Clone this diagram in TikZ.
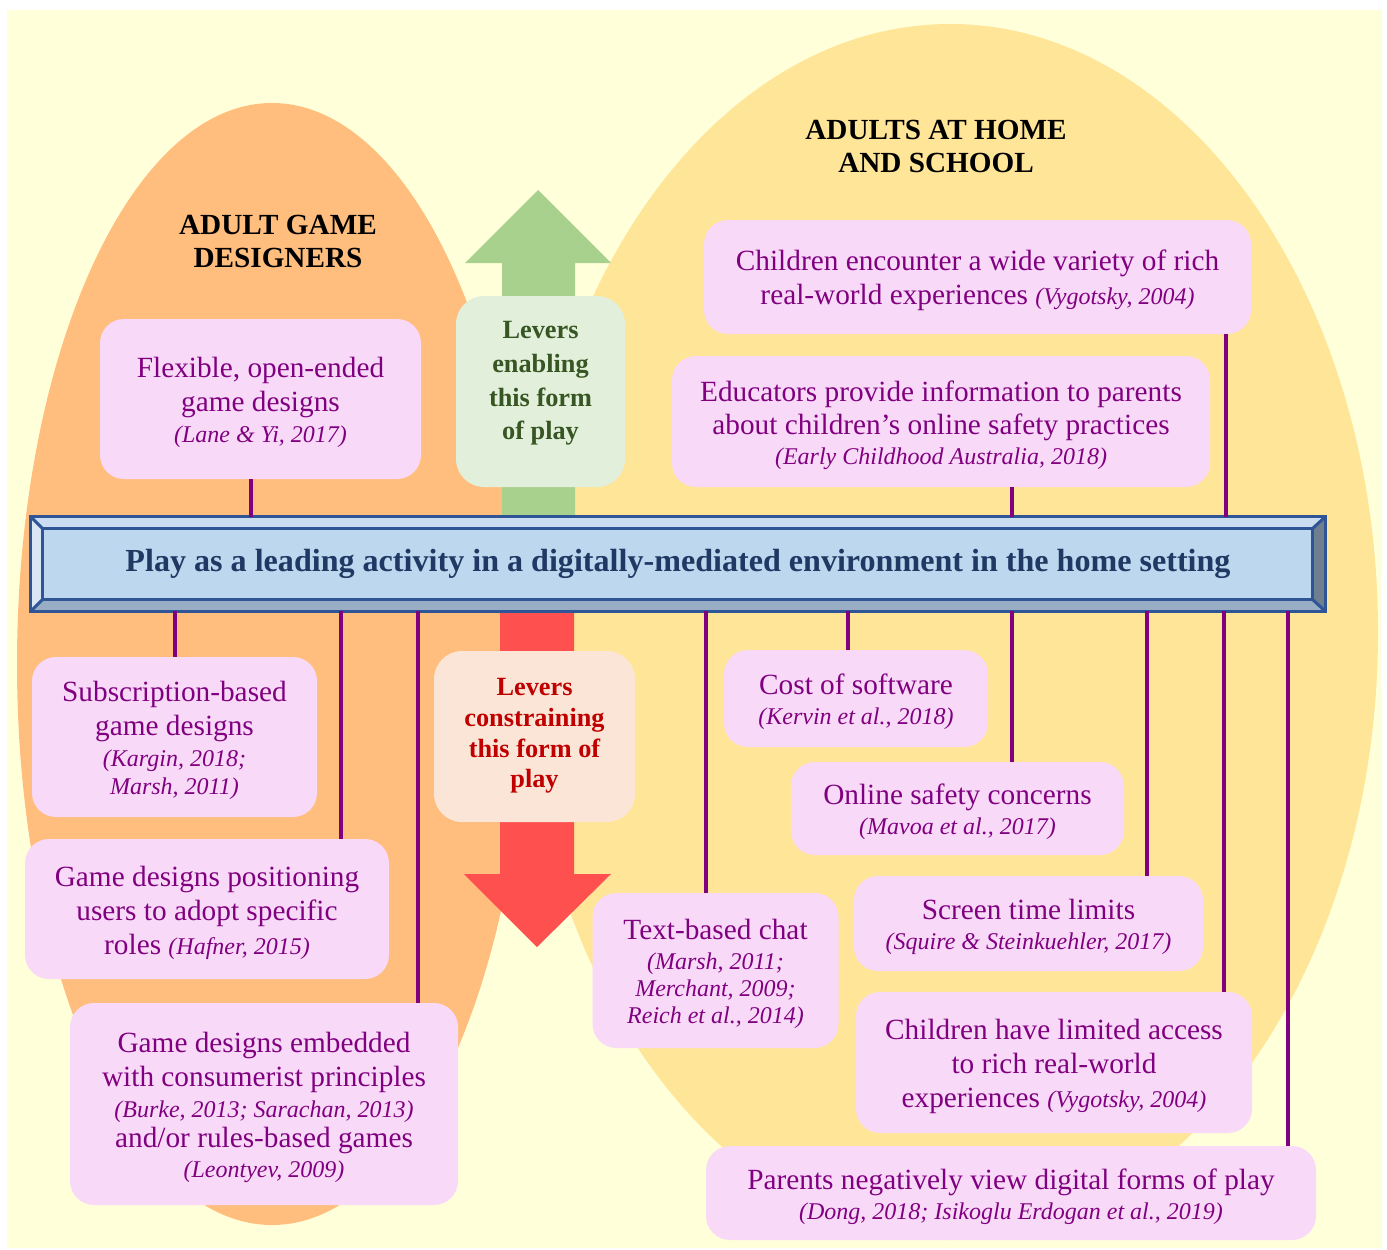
\documentclass[tikz,border=0pt]{standalone}
\usepackage{fontspec}
\setmainfont{Liberation Serif}
\usetikzlibrary{calc}

% colour scheme
\definecolor{bgc}{HTML}{FFFFDA}
\definecolor{orangeE}{HTML}{FFBE7E}
\definecolor{yellowE}{HTML}{FFE598}
\definecolor{pinkbox}{HTML}{F8DAF8}
\definecolor{purp}{HTML}{800080}
\definecolor{greenA}{HTML}{A9D18E}
\definecolor{greenB}{HTML}{E2EFDA}
\definecolor{greenT}{HTML}{375623}
\definecolor{redA}{HTML}{FF5050}
\definecolor{redB}{HTML}{FBE5D6}
\definecolor{redT}{HTML}{C00000}
\definecolor{barF}{HTML}{BDD7EE}
\definecolor{barTop}{HTML}{CADDF1}
\definecolor{barLeft}{HTML}{D9E6F4}
\definecolor{barBot}{HTML}{98AEC4}
\definecolor{barRight}{HTML}{6F7F8F}
\definecolor{barLine}{HTML}{2F5597}
\definecolor{barText}{HTML}{1F3864}

% italic reference in the boxes
\newcommand{\refit}[1]{{\fontsize{24}{27}\selectfont\itshape #1}}
% a pink rounded box (name, x, y, width, height) with its centred text
\newcommand{\pinkbox}[6]{%
  \node[pbox, minimum width=#4, minimum height=#5] (#1) at (#2,#3) {};
  \node[ptext] (#1-text) at ([yshift=-3.5pt]#1.center) {#6};}

\begin{document}
\begin{tikzpicture}[x=1pt,y=-1pt,
  pbox/.style={fill=pinkbox, rounded corners=24pt, inner sep=0pt},
  ptext/.style={text=purp, align=center, inner sep=0pt, font=\fontsize{29.3}{34}\selectfont},
  link/.style={draw=purp, line width=3.3pt},
  grouptitle/.style={align=center, font=\fontsize{29.2}{33}\selectfont\bfseries},
  leverbox/.style={rounded corners=28pt, inner sep=0pt},
  bevel/.style={draw=barLine, line width=3pt, line join=miter}]

\useasboundingbox (0,0) rectangle (1387,1250);

% background and the two groups of adults
\fill[bgc] (7,10) rectangle (1381,1248);
\fill[yellowE] (950,632) ellipse [x radius=428pt, y radius=608pt];
\fill[orangeE] (272,664) ellipse [x radius=255pt, y radius=561pt];

% arrows of the levers
\fill[greenA] (502,540) -- (502,263) -- (465,263) -- (538,190) -- (611,263)
  -- (575,263) -- (575,540) -- cycle;
\fill[redA] (500,600) -- (500,874) -- (464,874) -- (537,947) -- (611,874)
  -- (574,874) -- (574,600) -- cycle;

\node[leverbox, fill=greenB, minimum width=169pt, minimum height=191pt] (enab) at (540.5,391.5) {};
\node[align=center, text=greenT, font=\fontsize{26.3}{33.7}\selectfont\bfseries] (enabtxt)
  at ([yshift=8pt]enab.center) {Levers\\enabling\\this form\\of play};
\node[leverbox, fill=redB, minimum width=201pt, minimum height=171pt] (cons) at (534.5,736.5) {};
\node[align=center, text=redT, font=\fontsize{26.3}{30.7}\selectfont\bfseries] (constxt)
  at ([yshift=0.5pt]cons.center) {Levers\\constraining\\this form of\\play};

% group titles
\node[grouptitle] (gdes) at (278,241) {ADULT GAME\\DESIGNERS};
\node[grouptitle] (ghome) at (936,146) {ADULTS AT HOME\\AND SCHOOL};

% central bevelled bar
\node[fill=barF, minimum width=1294pt, minimum height=94pt, inner sep=0pt,
  text=barText, font=\fontsize{32.1}{36}\selectfont\bfseries] (bar) at (678,564)
  {\raisebox{4pt}{Play as a leading activity in a digitally-mediated environment in the home setting}};
\coordinate (o1) at (bar.north west);
\coordinate (o2) at (bar.north east);
\coordinate (o3) at (bar.south east);
\coordinate (o4) at (bar.south west);
\coordinate (i1) at ([shift={(12,12)}]bar.north west);
\coordinate (i2) at ([shift={(-13,12)}]bar.north east);
\coordinate (i3) at ([shift={(-13,-12)}]bar.south east);
\coordinate (i4) at ([shift={(12,-12)}]bar.south west);
\fill[barTop] (o1) -- (o2) -- (i2) -- (i1) -- cycle;
\fill[barLeft] (o1) -- (i1) -- (i4) -- (o4) -- cycle;
\fill[barBot] (o4) -- (i4) -- (i3) -- (o3) -- cycle;
\fill[barRight] (o2) -- (o3) -- (i3) -- (i2) -- cycle;
\draw[bevel] (o1) rectangle (o3);
\draw[bevel] (i1) rectangle (i3);
\draw[bevel] (o1) -- (i1) (o2) -- (i2) (o3) -- (i3) (o4) -- (i4);

% boxes above the bar
\pinkbox{flex}{260.5}{399}{321pt}{160pt}
  {Flexible, open-ended\\game designs\\[-3pt]\refit{(Lane \& Yi, 2017)}}
\pinkbox{enc}{977.5}{277}{547pt}{114pt}
  {Children encounter a wide variety of rich\\real-world experiences \refit{(Vygotsky, 2004)}}
\pinkbox{edu}{941}{421.5}{538pt}{131pt}
  {Educators provide information to parents\\[-1pt]about children’s online safety practices\\[-4pt]\refit{(Early Childhood Australia, 2018)}}

% boxes below the bar, game designers
\pinkbox{sub}{174.5}{737}{285pt}{160pt}
  {Subscription-based\\game designs\\[-3pt]\refit{(Kargin, 2018;}\\[-6pt]\refit{Marsh, 2011)}}
\pinkbox{pos}{207}{909}{364pt}{140pt}
  {Game designs positioning\\users to adopt specific\\roles \refit{(Hafner, 2015)}}
\pinkbox{emb}{264}{1104}{388pt}{202pt}
  {Game designs embedded\\with consumerist principles\\[-3pt]\refit{(Burke, 2013; Sarachan, 2013)}\\[-4pt]and/or rules-based games\\[-4pt]\refit{(Leontyev, 2009)}}

% boxes below the bar, home and school
\pinkbox{cost}{856}{698.5}{264pt}{97pt}
  {Cost of software\\[-4pt]\refit{(Kervin et al., 2018)}}
\pinkbox{safe}{957.5}{808.5}{333pt}{93pt}
  {Online safety concerns\\[-4pt]\refit{(Mavoa et al., 2017)}}
\pinkbox{chat}{715.5}{970.5}{246pt}{155pt}
  {Text-based chat\\[-3.5pt]\refit{(Marsh, 2011;}\\[-7pt]\refit{Merchant, 2009;}\\[-7pt]\refit{Reich et al., 2014)}}
\pinkbox{screen}{1028.5}{923.5}{349pt}{95pt}
  {Screen time limits\\[-4pt]\refit{(Squire \& Steinkuehler, 2017)}}
\pinkbox{limit}{1054}{1062.5}{396pt}{141pt}
  {Children have limited access\\to rich real-world\\experiences \refit{(Vygotsky, 2004)}}
\pinkbox{parents}{1011}{1193}{610pt}{94pt}
  {Parents negatively view digital forms of play\\[-4pt]\refit{(Dong, 2018; Isikoglu Erdogan et al., 2019)}}

% columns of the connectors
\coordinate (xflex) at (251,0);
\coordinate (xenc) at (1226,0);
\coordinate (xedu) at (1012,0);
\coordinate (xsub) at (175,0);
\coordinate (xpos) at (341,0);
\coordinate (xemb) at (418,0);
\coordinate (xchat) at (706,0);
\coordinate (xcost) at (848,0);
\coordinate (xsafe) at (1012,0);
\coordinate (xscreen) at (1147,0);
\coordinate (xlimit) at (1224,0);
\coordinate (xparents) at (1288,0);

% connectors
\draw[link] (flex.south -| xflex) -- (bar.north -| xflex);
\draw[link] (enc.south -| xenc) -- (bar.north -| xenc);
\draw[link] (edu.south -| xedu) -- (bar.north -| xedu);
\draw[link] (bar.south -| xsub) -- (sub.north -| xsub);
\draw[link] (bar.south -| xpos) -- (pos.north -| xpos);
\draw[link] (bar.south -| xemb) -- (emb.north -| xemb);
\draw[link] (bar.south -| xchat) -- (chat.north -| xchat);
\draw[link] (bar.south -| xcost) -- (cost.north -| xcost);
\draw[link] (bar.south -| xsafe) -- (safe.north -| xsafe);
\draw[link] (bar.south -| xscreen) -- (screen.north -| xscreen);
\draw[link] (bar.south -| xlimit) -- (limit.north -| xlimit);
\draw[link] (bar.south -| xparents) -- (parents.north -| xparents);
\end{tikzpicture}
\end{document}
